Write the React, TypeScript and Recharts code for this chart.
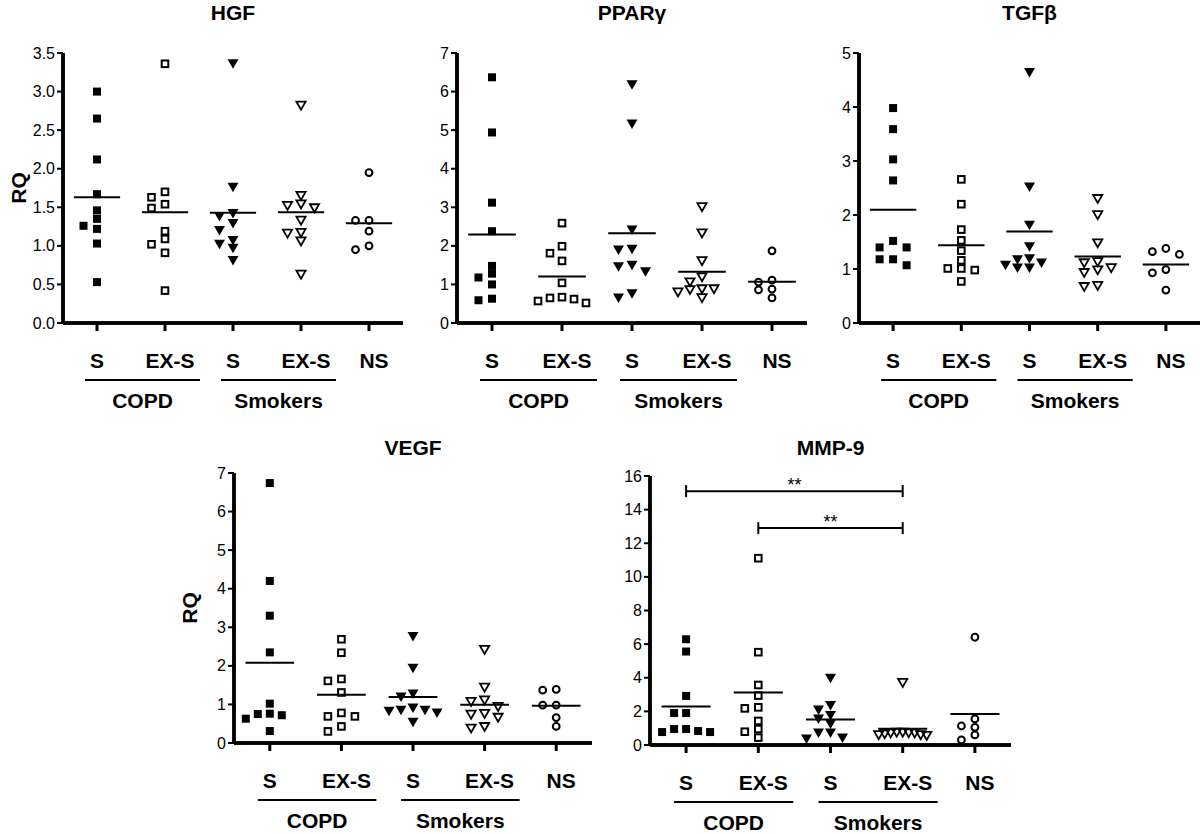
import React from "react";
import { ScatterChart, Scatter, XAxis, YAxis, ReferenceLine } from "recharts";

const FONT = "'Liberation Sans', Arial, Helvetica, sans-serif";

// x categories and their grouping
const categories = ["S", "EX-S", "S", "EX-S", "NS"];
const groupNames = ["COPD", "Smokers"];
const groupStarts = [0, 2];

// RQ values per group: COPD S, COPD EX-S, Smokers S, Smokers EX-S, NS
const hgfValues = [
  [3.0, 2.65, 2.12, 1.67, 1.46, 1.35, 1.26, 1.22, 1.03, 0.53],
  [3.36, 1.7, 1.63, 1.54, 1.49, 1.19, 1.09, 1.02, 0.91, 0.42],
  [3.36, 1.76, 1.42, 1.38, 1.29, 1.2, 1.07, 1.02, 0.97, 0.81],
  [2.82, 1.65, 1.54, 1.52, 1.49, 1.33, 1.17, 1.16, 1.06, 0.63],
  [1.95, 1.33, 1.33, 1.19, 1.0, 0.95],
];
const pparValues = [
  [6.37, 4.94, 3.12, 2.38, 1.48, 1.28, 1.18, 1.0, 0.63, 0.59],
  [2.59, 1.99, 1.81, 1.61, 1.04, 0.67, 0.65, 0.62, 0.57, 0.52],
  [6.18, 5.16, 2.41, 1.91, 1.89, 1.5, 1.46, 1.33, 0.76, 0.65],
  [3.01, 2.33, 1.61, 1.19, 1.06, 0.88, 0.88, 0.86, 0.8, 0.65],
  [1.87, 1.11, 1.06, 0.88, 0.86, 0.65],
];
const tgfValues = [
  [3.98, 3.59, 3.03, 2.64, 1.52, 1.4, 1.4, 1.18, 1.18, 1.07],
  [2.66, 2.2, 1.73, 1.53, 1.34, 1.16, 1.01, 1.01, 0.98, 0.77],
  [4.64, 2.52, 1.81, 1.41, 1.19, 1.17, 1.11, 1.07, 1.02, 1.02],
  [2.3, 2.0, 1.48, 1.13, 1.11, 1.02, 0.98, 0.93, 0.69, 0.67],
  [1.38, 1.32, 1.27, 0.99, 0.93, 0.61],
];
const vegfValues = [
  [6.74, 4.2, 3.3, 2.35, 1.02, 0.76, 0.75, 0.72, 0.63, 0.31],
  [2.69, 2.34, 1.66, 1.61, 1.31, 0.78, 0.69, 0.69, 0.43, 0.3],
  [2.76, 1.94, 1.27, 1.19, 0.91, 0.85, 0.85, 0.82, 0.78, 0.54],
  [2.42, 1.44, 1.11, 1.07, 0.94, 0.76, 0.74, 0.66, 0.42, 0.38],
  [1.39, 1.37, 0.98, 0.98, 0.66, 0.43],
];
const mmpValues = [
  [6.29, 5.56, 2.92, 1.9, 1.9, 0.95, 0.95, 0.83, 0.77, 0.77],
  [11.11, 5.52, 3.57, 2.94, 2.24, 2.18, 1.43, 0.95, 0.79, 0.44],
  [3.97, 2.35, 2.08, 1.75, 1.55, 1.25, 0.71, 0.71, 0.42, 0.36],
  [3.71, 0.75, 0.75, 0.72, 0.7, 0.7, 0.65, 0.6, 0.6, 0.55],
  [6.41, 1.55, 1.13, 1.05, 0.6, 0.3],
];

// significance brackets on MMP-9 (group index from / to)
const mmpBrackets = [
  { from: 1, to: 4, y: 15.1, label: "**" },
  { from: 2, to: 4, y: 12.9, label: "**" },
];

const hgfTicks = [0, 0.5, 1, 1.5, 2, 2.5, 3, 3.5];
const pparTicks = [0, 1, 2, 3, 4, 5, 6, 7];
const tgfTicks = [0, 1, 2, 3, 4, 5];
const vegfTicks = [0, 1, 2, 3, 4, 5, 6, 7];
const mmpTicks = [0, 2, 4, 6, 8, 10, 12, 14, 16];

// symbols
const FilledSquare = (p: any) => (
  <rect x={p.cx - 4} y={p.cy - 4} width={8} height={8} fill="#000" />
);
const OpenSquare = (p: any) => (
  <rect x={p.cx - 3.3} y={p.cy - 3.3} width={6.6} height={6.6} fill="none" stroke="#000" strokeWidth={2} />
);
const FilledTriangle = (p: any) => (
  <path d={`M${p.cx - 5.5},${p.cy - 4.5}L${p.cx + 5.5},${p.cy - 4.5}L${p.cx},${p.cy + 5}Z`} fill="#000" />
);
const OpenTriangle = (p: any) => (
  <path
    d={`M${p.cx - 4.6},${p.cy - 3.8}L${p.cx + 4.6},${p.cy - 3.8}L${p.cx},${p.cy + 4.2}Z`}
    fill="none"
    stroke="#000"
    strokeWidth={1.8}
  />
);
const OpenCircle = (p: any) => (
  <circle cx={p.cx} cy={p.cy} r={3.4} fill="none" stroke="#000" strokeWidth={2} />
);
const shapes = [FilledSquare, OpenSquare, FilledTriangle, OpenTriangle, OpenCircle];

// simple beeswarm: spread points sideways when they would overlap
function swarm(vals: number[], center: number, pxPerVal: number, unitPx: number) {
  const order = vals.map((v, i) => ({ v, i })).sort((a, b) => b.v - a.v);
  const placed: { v: number; s: number }[] = [];
  for (const p of order) {
    let slot = 0;
    for (let k = 0; k < 30; k++) {
      const s = k === 0 ? 0 : k % 2 === 1 ? -Math.ceil(k / 2) : Math.ceil(k / 2);
      const hit = placed.some((q) => q.s === s && Math.abs(q.v - p.v) * pxPerVal < 7.5);
      if (!hit) {
        slot = s;
        break;
      }
    }
    placed.push({ v: p.v, s: slot });
  }
  const maxSlot = Math.max(1, ...placed.map((p) => Math.abs(p.s)));
  const step = Math.min(13.5, 24 / maxSlot);
  return placed.map((p) => ({ x: center + (p.s * step) / unitPx, y: p.v }));
}

const mean = (a: number[]) => a.reduce((s, v) => s + v, 0) / a.length;

function makeCatTick(unitPx: number) {
  return (props: any) => {
    const { x, y, payload } = props;
    const i = Math.round(payload.value) - 1;
    const label = categories[i];
    const dx = label === "S" ? 0 : 5;
    const g = groupStarts.indexOf(i);
    const x1 = x - 12;
    const x2 = x + unitPx + 35;
    return (
      <g>
        <text x={x + dx} y={y + 36} textAnchor="middle" fontWeight="bold" fontSize={21} fill="#000" fontFamily={FONT}>
          {label}
        </text>
        {g >= 0 && (
          <g>
            <line x1={x1} x2={x2} y1={y + 48} y2={y + 48} stroke="#000" strokeWidth={2} />
            <text x={(x1 + x2) / 2} y={y + 76} textAnchor="middle" fontWeight="bold" fontSize={21} fill="#000" fontFamily={FONT}>
              {groupNames[g]}
            </text>
          </g>
        )}
      </g>
    );
  };
}

function makeValueTick(decimals: number) {
  return (props: any) => {
    const { x, y, payload } = props;
    return (
      <text x={x} y={y + 5.5} textAnchor="end" fontSize={16} fill="#000" fontFamily={FONT}>
        {Number(payload.value).toFixed(decimals)}
      </text>
    );
  };
}

interface PanelProps {
  title: string;
  values: number[][];
  yTicks: number[];
  decimals: number;
  axisX: number;
  plotTop: number;
  pw: number;
  ph: number;
  titleY: number;
  showRQ?: boolean;
  brackets?: { from: number; to: number; y: number; label: string }[];
}

function Panel({ title, values, yTicks, decimals, axisX, plotTop, pw, ph, titleY, showRQ, brackets }: PanelProps) {
  const yMax = yTicks[yTicks.length - 1];
  const unitPx = pw / 5;
  const pxPerVal = ph / yMax;
  const yW = 60;
  const mTop = 10;
  const xH = 100;
  const width = yW + pw + 10;
  const height = mTop + ph + xH;
  const tickLen = 6 / pxPerVal;

  return (
    <>
      <div
        style={{
          position: "absolute",
          left: axisX,
          width: pw,
          top: titleY - 13,
          lineHeight: "26px",
          textAlign: "center",
          fontWeight: "bold",
          fontSize: 21,
          fontFamily: FONT,
        }}
      >
        {title}
      </div>
      {showRQ && (
        <div
          style={{
            position: "absolute",
            left: axisX - 44,
            top: plotTop + ph / 2,
            transform: "translate(-50%, -50%) rotate(-90deg)",
            fontWeight: "bold",
            fontSize: 21,
            fontFamily: FONT,
          }}
        >
          RQ
        </div>
      )}
      <div style={{ position: "absolute", left: axisX - yW, top: plotTop - mTop }}>
        <ScatterChart width={width} height={height} margin={{ top: mTop, right: 10, bottom: 0, left: 0 }}>
          <XAxis
            type="number"
            dataKey="x"
            domain={[0.5, 5.5]}
            ticks={[1, 2, 3, 4, 5]}
            height={xH}
            axisLine={{ stroke: "#000", strokeWidth: 3.5 }}
            tickLine={{ stroke: "#000", strokeWidth: 3 }}
            tickSize={8}
            tickMargin={1}
            tick={makeCatTick(unitPx)}
          />
          <YAxis
            type="number"
            dataKey="y"
            domain={[0, yMax]}
            ticks={yTicks}
            width={yW}
            axisLine={{ stroke: "#000", strokeWidth: 3.5 }}
            tickLine={{ stroke: "#000", strokeWidth: 2 }}
            tickSize={6}
            tickMargin={2}
            tick={makeValueTick(decimals)}
          />
          {values.map((vals, i) => (
            <Scatter
              key={i}
              data={swarm(vals, i + 1, pxPerVal, unitPx)}
              shape={shapes[i]}
              isAnimationActive={false}
            />
          ))}
          {values.map((vals, i) => (
            <ReferenceLine
              key={`m${i}`}
              segment={[
                { x: i + 1 - 0.34, y: mean(vals) },
                { x: i + 1 + 0.34, y: mean(vals) },
              ]}
              stroke="#000"
              strokeWidth={2}
            />
          ))}
          <ReferenceLine
            segment={[
              { x: 0.5, y: 0 },
              { x: 0.5, y: yMax },
            ]}
            stroke="#000"
            strokeWidth={3.5}
            ifOverflow="visible"
          />
          <ReferenceLine
            segment={[
              { x: 0.5, y: 0 },
              { x: 5.5, y: 0 },
            ]}
            stroke="#000"
            strokeWidth={3.5}
            ifOverflow="visible"
          />
          {(brackets || []).map((b, i) => (
            <ReferenceLine
              key={`b${i}`}
              segment={[
                { x: b.from, y: b.y },
                { x: b.to, y: b.y },
              ]}
              stroke="#000"
              strokeWidth={2}
              label={{ value: b.label, position: "top", offset: 0, fill: "#000", fontSize: 18, fontFamily: FONT }}
            />
          ))}
          {(brackets || []).flatMap((b, i) =>
            [b.from, b.to].map((bx, j) => (
              <ReferenceLine
                key={`bt${i}-${j}`}
                segment={[
                  { x: bx, y: b.y - tickLen },
                  { x: bx, y: b.y + tickLen },
                ]}
                stroke="#000"
                strokeWidth={2}
              />
            ))
          )}
        </ScatterChart>
      </div>
    </>
  );
}

export default function App() {
  return (
    <div
      style={{
        position: "absolute",
        left: 0,
        top: 0,
        width: 1200,
        height: 834,
        background: "#fff",
        overflow: "hidden",
        fontFamily: FONT,
      }}
    >
      <style>{`body{margin:0}`}</style>
      <Panel title="HGF" values={hgfValues} yTicks={hgfTicks} decimals={1} axisX={63} plotTop={53} pw={340} ph={270} titleY={13} showRQ />
      <Panel title="PPARγ" values={pparValues} yTicks={pparTicks} decimals={0} axisX={457} plotTop={53} pw={350} ph={270} titleY={13} />
      <Panel title="TGFβ" values={tgfValues} yTicks={tgfTicks} decimals={0} axisX={859} plotTop={53} pw={341} ph={270} titleY={13} />
      <Panel title="VEGF" values={vegfValues} yTicks={vegfTicks} decimals={0} axisX={234} plotTop={473} pw={358} ph={270} titleY={448} showRQ />
      <Panel title="MMP-9" values={mmpValues} yTicks={mmpTicks} decimals={0} axisX={650} plotTop={476} pw={361} ph={269} titleY={448} brackets={mmpBrackets} />
    </div>
  );
}
